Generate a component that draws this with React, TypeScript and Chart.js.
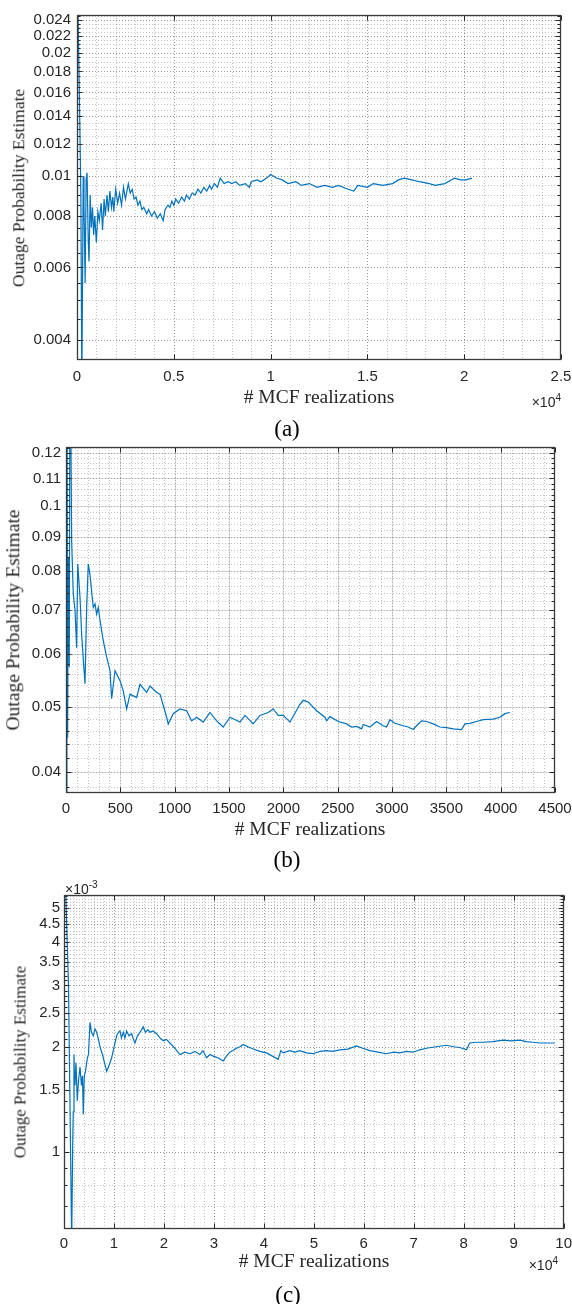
import React, { useEffect, useRef } from "react";
import { Chart, registerables } from "chart.js";
Chart.register(...registerables);

// ---------- Panel (a) ----------
const realizationsA = [
  0, 60, 120, 200, 250, 320, 360, 420, 470, 520, 580, 620, 680, 740, 800, 860, 920, 1000, 1080, 1150,
  1250, 1320, 1400, 1460, 1550, 1620, 1700, 1780, 1850, 1900, 2000, 2100, 2200, 2300, 2400, 2500, 2650,
  2750, 2850, 2950, 3050, 3150, 3250, 3350, 3450, 3600, 3700, 3850, 4000, 4150, 4300, 4450, 4550, 4700,
  4800, 4900, 5000, 5100, 5250, 5400, 5550, 5650, 5800, 5950, 6100, 6250, 6400, 6550, 6700, 6850, 6950,
  7100, 7250, 7400, 7600, 7800, 8000, 8200, 8400, 8700, 8900, 9000, 9300, 9500, 9800, 10000, 10300,
  10600, 10900, 11300, 11600, 12000, 12400, 12800, 13200, 13500, 14000, 14300, 14500, 15000, 15300,
  15800, 16300, 16600, 16900, 17300, 17700, 18200, 18500, 19000, 19500, 19800, 20100, 20400,
];
const outageA = [
  0.05, 0.024, 0.016, 0.009, 0.003, 0.01, 0.0085, 0.0055, 0.0098, 0.0102, 0.007, 0.0062, 0.009, 0.0075,
  0.0084, 0.0072, 0.008, 0.0069, 0.0082, 0.0078, 0.0086, 0.0074, 0.0088, 0.008, 0.009, 0.0082, 0.0092,
  0.0084, 0.0089, 0.0082, 0.0093, 0.0086, 0.0091, 0.0085, 0.0094, 0.0088, 0.0096, 0.0091, 0.0093, 0.0088,
  0.0089, 0.0085, 0.0087, 0.0083, 0.0084, 0.0081, 0.0083, 0.008, 0.0082, 0.0079, 0.0081, 0.0078, 0.0083,
  0.0085, 0.0084, 0.0087, 0.0085, 0.0088, 0.0086, 0.0089, 0.0087, 0.009, 0.0088, 0.0091, 0.009, 0.0093,
  0.0091, 0.0094, 0.0092, 0.0095, 0.0093, 0.0096, 0.0094, 0.0099, 0.0096, 0.0097, 0.0096, 0.0097, 0.0095,
  0.0096, 0.0094, 0.0097, 0.0098, 0.0097, 0.0099, 0.0101, 0.0099, 0.0098, 0.0096, 0.0097, 0.0095, 0.0096,
  0.0094, 0.0095, 0.0094, 0.0095, 0.0093, 0.0092, 0.0095, 0.0094, 0.0096, 0.0095, 0.0096, 0.0098, 0.0099,
  0.0098, 0.0097, 0.0096, 0.0095, 0.0096, 0.0099, 0.0098, 0.0098, 0.0099,
];
const xTicksA = [0, 5000, 10000, 15000, 20000, 25000];
const xLabelsA = ["0", "0.5", "1", "1.5", "2", "2.5"];
const yTicksA = [0.004, 0.006, 0.008, 0.01, 0.012, 0.014, 0.016, 0.018, 0.02, 0.022, 0.024];
const yLabelsA = ["0.004", "0.006", "0.008", "0.01", "0.012", "0.014", "0.016", "0.018", "0.02", "0.022", "0.024"];

// ---------- Panel (b) ----------
const realizationsB = [
  0, 8, 15, 21, 30, 37, 52, 67, 83, 98,
  108, 129, 144, 166, 175, 190, 205, 221, 251, 267,
  282, 297, 313, 343, 374, 405, 420, 451, 497, 527,
  558, 589, 650, 681, 742, 773, 834, 865, 926, 941,
  987, 1049, 1110, 1156, 1202, 1263, 1325, 1386, 1447, 1509,
  1601, 1647, 1723, 1785, 1861, 1907, 1953, 1999, 2061, 2153,
  2183, 2229, 2306, 2383, 2398, 2429, 2505, 2582, 2628, 2674,
  2720, 2736, 2797, 2858, 2919, 2950, 2981, 3027, 3103, 3149,
  3195, 3226, 3272, 3318, 3379, 3441, 3502, 3563, 3640, 3671,
  3717, 3778, 3839, 3931, 3993, 4039, 4085,
];
const outageB = [
  0.033, 0.2, 0.045, 0.0838, 0.0574, 0.2, 0.0885, 0.0739, 0.0698, 0.0614,
  0.0819, 0.073, 0.0643, 0.0567, 0.0542, 0.0705, 0.0819, 0.0789, 0.0705, 0.0714,
  0.0689, 0.0705, 0.0674, 0.0629, 0.0594, 0.0567, 0.0515, 0.0567, 0.0548, 0.0529,
  0.0497, 0.0523, 0.0517, 0.0541, 0.0526, 0.0538, 0.0526, 0.0523, 0.0483, 0.0472,
  0.0489, 0.0497, 0.0494, 0.0477, 0.0483, 0.0475, 0.0491, 0.0477, 0.0467, 0.0483,
  0.0475, 0.0486, 0.0472, 0.0486, 0.0491, 0.0497, 0.0486, 0.0486, 0.0475, 0.0505,
  0.0512, 0.0509, 0.0494, 0.0483, 0.0477, 0.0484, 0.0476, 0.0472, 0.0467, 0.0468,
  0.0464, 0.0471, 0.0467, 0.0476, 0.0469, 0.0467, 0.0479, 0.0473, 0.0469, 0.0467,
  0.0463, 0.0469, 0.0477, 0.0476, 0.0472, 0.0467, 0.0466, 0.0464, 0.0463, 0.0472,
  0.0473, 0.0476, 0.0479, 0.048, 0.0483, 0.0489, 0.0491,
];
const xTicksB = [0, 500, 1000, 1500, 2000, 2500, 3000, 3500, 4000, 4500];
const xLabelsB = ["0", "500", "1000", "1500", "2000", "2500", "3000", "3500", "4000", "4500"];
const yTicksB = [0.04, 0.05, 0.06, 0.07, 0.08, 0.09, 0.1, 0.11, 0.12];
const yLabelsB = ["0.04", "0.05", "0.06", "0.07", "0.08", "0.09", "0.1", "0.11", "0.12"];

// ---------- Panel (c) (values in units of 1e-3) ----------
const realizationsC = [
  0, 340, 900, 1540, 1740, 1850, 2000, 2100, 2200, 2400, 2660, 2900, 3200, 3500, 3700, 3860, 4060, 4300,
  4660, 4900, 5200, 5500, 5860, 6200, 6540, 6900, 7200, 7700, 8100, 8540, 8900, 9200, 9500, 9860, 10200,
  10540, 10900, 11200, 11500, 11860, 12200, 12540, 13000, 13540, 13900, 14200, 14700, 15200, 15860, 16300,
  16800, 17200, 17800, 18540, 19200, 19860, 20500, 21200, 22200, 23200, 24200, 25200, 26200, 27200, 27800,
  28540, 29200, 29860, 30800, 31860, 32500, 33200, 33800, 34540, 35200, 35860, 36800, 37860, 39200, 40540,
  41700, 42860, 43400, 43860, 45200, 46200, 47200, 48500, 49860, 51200, 52540, 53800, 55200, 56800, 58540,
  59800, 61200, 62800, 64540, 66000, 67200, 68500, 69860, 71200, 72540, 74500, 76540, 78000, 79200, 80540,
  81200, 82500, 83860, 85800, 87860, 89500, 91200, 92500, 93860, 95200, 96540, 98200,
];
const outageC_e3 = [
  8, 5.6, 3.0, 0.55, 1.05, 1.3, 1.9, 1.6, 1.55, 1.8, 1.4, 1.6, 1.75, 1.55, 1.65, 1.28, 1.65, 1.7, 1.85, 1.9,
  2.35, 2.2, 2.15, 2.25, 2.2, 2.1, 2.0, 1.9, 1.8, 1.7, 1.75, 1.8, 1.85, 1.95, 2.05, 2.15, 2.2, 2.22, 2.12,
  2.2, 2.12, 2.22, 2.15, 2.18, 2.1, 2.05, 2.15, 2.2, 2.28, 2.2, 2.24, 2.2, 2.22, 2.18, 2.12, 2.08, 2.1, 2.05,
  1.98, 1.9, 1.93, 1.91, 1.94, 1.9, 1.95, 1.86, 1.9, 1.88, 1.86, 1.82, 1.88, 1.93, 1.95, 1.98, 2.0, 2.03,
  2.0, 1.97, 1.94, 1.92, 1.88, 1.84, 1.95, 1.92, 1.95, 1.93, 1.95, 1.92, 1.91, 1.94, 1.95, 1.94, 1.96, 1.97,
  2.01, 1.98, 1.95, 1.93, 1.91, 1.93, 1.92, 1.94, 1.93, 1.96, 1.98, 2.0, 2.02, 2.0, 1.99, 1.96, 2.05, 2.06,
  2.06, 2.07, 2.09, 2.08, 2.09, 2.07, 2.06, 2.05, 2.05, 2.05,
];
const xTicksC = [0, 10000, 20000, 30000, 40000, 50000, 60000, 70000, 80000, 90000, 100000];
const xLabelsC = ["0", "1", "2", "3", "4", "5", "6", "7", "8", "9", "10"];
const yTicksC = [1, 1.5, 2, 2.5, 3, 3.5, 4, 4.5, 5];
const yLabelsC = ["1", "1.5", "2", "2.5", "3", "3.5", "4", "4.5", "5"];

// ---------- helpers ----------
function steps(from: number, to: number, step: number): number[] {
  const out: number[] = [];
  const n = Math.round((to - from) / step);
  for (let i = 0; i <= n; i++) out.push(Math.round((from + i * step) * 1e7) / 1e7);
  return out;
}

const INK = "#262626";
const LINE_BLUE = "#0072BD";
const SANS = "'Liberation Sans', Arial, Helvetica, sans-serif";
const SERIF = "'Liberation Serif', 'Times New Roman', Times, serif";

const matlabAxes = {
  id: "matlabAxes",
  beforeDatasetsDraw(chart: any, _args: any, o: any) {
    const { ctx, chartArea: a } = chart;
    const xs = chart.scales.x;
    const ys = chart.scales.y;
    ctx.save();
    ctx.lineWidth = 1;
    const vline = (v: number) => {
      const p = Math.round(xs.getPixelForValue(v)) + 0.5;
      if (p < a.left + 1 || p > a.right - 1) return;
      ctx.beginPath();
      ctx.moveTo(p, a.top);
      ctx.lineTo(p, a.bottom);
      ctx.stroke();
    };
    const hline = (v: number) => {
      const p = Math.round(ys.getPixelForValue(v)) + 0.5;
      if (p < a.top + 1 || p > a.bottom - 1) return;
      ctx.beginPath();
      ctx.moveTo(a.left, p);
      ctx.lineTo(a.right, p);
      ctx.stroke();
    };
    ctx.setLineDash([1, 2]);
    ctx.strokeStyle = "rgba(38,38,38,0.28)";
    o.xMinor.forEach(vline);
    o.yMinor.forEach(hline);
    if (o.solidMajor) {
      ctx.setLineDash([]);
      ctx.strokeStyle = "rgba(38,38,38,0.15)";
    }
    o.xMajor.forEach(vline);
    o.yMajor.forEach(hline);
    ctx.restore();
  },
  afterDraw(chart: any, _args: any, o: any) {
    const { ctx, chartArea: a } = chart;
    const xs = chart.scales.x;
    const ys = chart.scales.y;
    ctx.save();
    ctx.strokeStyle = INK;
    ctx.lineWidth = 1;
    ctx.setLineDash([]);
    const L = Math.round(a.left) + 0.5;
    const R = Math.round(a.right) - 0.5;
    const T = Math.round(a.top) + 0.5;
    const B = Math.round(a.bottom) - 0.5;
    ctx.beginPath();
    o.xMajor.forEach((v: number) => {
      const p = Math.round(xs.getPixelForValue(v)) + 0.5;
      ctx.moveTo(p, B);
      ctx.lineTo(p, B - 5);
      ctx.moveTo(p, T);
      ctx.lineTo(p, T + 5);
    });
    o.yMajor.forEach((v: number) => {
      const p = Math.round(ys.getPixelForValue(v)) + 0.5;
      ctx.moveTo(L, p);
      ctx.lineTo(L + 5, p);
      ctx.moveTo(R, p);
      ctx.lineTo(R - 5, p);
    });
    o.yMinor.forEach((v: number) => {
      const p = Math.round(ys.getPixelForValue(v)) + 0.5;
      if (p < a.top || p > a.bottom) return;
      ctx.moveTo(L, p);
      ctx.lineTo(L + 3, p);
      ctx.moveTo(R, p);
      ctx.lineTo(R - 3, p);
    });
    ctx.stroke();
    ctx.lineWidth = 1.3;
    ctx.strokeStyle = "#3a3a3a";
    ctx.strokeRect(L, T, R - L, B - T);
    ctx.restore();
  },
};

type Panel = {
  x: number[];
  y: number[];
  xMin: number;
  xMax: number;
  yMin: number;
  yMax: number;
  xTicks: number[];
  xLabels: string[];
  yTicks: number[];
  yLabels: string[];
  xMinor: number[];
  yMinor: number[];
  solidMajor: boolean;
  left: number;
  padTop: number;
  padRight: number;
  xAxisH: number;
  xTickGap: number;
  yTickGap: number;
  tickFont: number;
};

function PanelChart({ p, top, height }: { p: Panel; top: number; height: number }) {
  const ref = useRef<HTMLCanvasElement | null>(null);
  useEffect(() => {
    if (!ref.current) return;
    const chart = new Chart(ref.current, {
      type: "line",
      data: {
        datasets: [
          {
            data: p.x.map((xv, i) => ({ x: xv, y: p.y[i] })),
            borderColor: LINE_BLUE,
            borderWidth: 1.2,
            pointRadius: 0,
            fill: false,
            tension: 0,
          },
        ],
      },
      options: {
        animation: false,
        responsive: false,
        maintainAspectRatio: false,
        layout: { padding: { top: p.padTop, right: p.padRight, bottom: 0, left: 0 } },
        plugins: {
          legend: { display: false },
          tooltip: { enabled: false },
          matlabAxes: {
            xMajor: p.xTicks,
            yMajor: p.yTicks,
            xMinor: p.xMinor,
            yMinor: p.yMinor,
            solidMajor: p.solidMajor,
          },
        } as any,
        scales: {
          x: {
            type: "linear",
            min: p.xMin,
            max: p.xMax,
            grid: { display: false, drawTicks: true, tickLength: p.xTickGap },
            border: { display: false },
            ticks: {
              autoSkip: false,
              maxRotation: 0,
              padding: 0,
              color: INK,
              font: { family: SANS, size: p.tickFont },
              callback: (_v: any, i: number) => p.xLabels[i],
            },
            afterBuildTicks: (s: any) => {
              s.ticks = p.xTicks.map((v) => ({ value: v }));
            },
            afterFit: (s: any) => {
              s.height = p.xAxisH;
            },
          },
          y: {
            type: "logarithmic",
            min: p.yMin,
            max: p.yMax,
            grid: { display: false, drawTicks: true, tickLength: p.yTickGap },
            border: { display: false },
            ticks: {
              autoSkip: false,
              padding: 0,
              color: INK,
              font: { family: SANS, size: p.tickFont },
              callback: (_v: any, i: number) => p.yLabels[i],
            },
            afterBuildTicks: (s: any) => {
              s.ticks = p.yTicks.map((v) => ({ value: v }));
            },
            afterFit: (s: any) => {
              s.width = p.left;
            },
          },
        } as any,
      },
      plugins: [matlabAxes as any],
    });
    return () => chart.destroy();
  }, [p]);
  return (
    <canvas
      ref={ref}
      width={572}
      height={height}
      style={{ position: "absolute", left: 0, top, width: 572, height }}
    />
  );
}

const panelA: Panel = {
  x: realizationsA,
  y: outageA,
  xMin: 0,
  xMax: 25000,
  yMin: 0.00357,
  yMax: 0.0247,
  xTicks: xTicksA,
  xLabels: xLabelsA,
  yTicks: yTicksA,
  yLabels: yLabelsA,
  xMinor: steps(0, 25000, 1000),
  yMinor: steps(0.0035, 0.0245, 0.0005),
  solidMajor: false,
  left: 77,
  padTop: 15,
  padRight: 11,
  xAxisH: 35,
  xTickGap: 8,
  yTickGap: 6,
  tickFont: 15,
};
const panelB: Panel = {
  x: realizationsB,
  y: outageB,
  xMin: 0,
  xMax: 4500,
  yMin: 0.0372,
  yMax: 0.1226,
  xTicks: xTicksB,
  xLabels: xLabelsB,
  yTicks: yTicksB,
  yLabels: yLabelsB,
  xMinor: steps(0, 4500, 100),
  yMinor: steps(0.036, 0.122, 0.002),
  solidMajor: true,
  left: 66,
  padTop: 17,
  padRight: 17,
  xAxisH: 35,
  xTickGap: 7,
  yTickGap: 5,
  tickFont: 15,
};
const panelC: Panel = {
  x: realizationsC,
  y: outageC_e3,
  xMin: 0,
  xMax: 100000,
  yMin: 0.615,
  yMax: 5.45,
  xTicks: xTicksC,
  xLabels: xLabelsC,
  yTicks: yTicksC,
  yLabels: yLabelsC,
  xMinor: steps(0, 100000, 2000),
  yMinor: steps(0.6, 5.4, 0.1),
  solidMajor: false,
  left: 64,
  padTop: 20,
  padRight: 8,
  xAxisH: 35,
  xTickGap: 6,
  yTickGap: 4,
  tickFont: 15,
};

const abs = (s: React.CSSProperties): React.CSSProperties => ({
  position: "absolute",
  whiteSpace: "nowrap",
  lineHeight: 1,
  margin: 0,
  ...s,
});

function XTitle({ cx, cy }: { cx: number; cy: number }) {
  return (
    <div style={abs({ left: cx, top: cy, transform: "translate(-50%,-50%)", fontFamily: SERIF, fontSize: 19.5, color: INK })}>
      # MCF realizations
    </div>
  );
}
function YTitle({ cx, cy, size }: { cx: number; cy: number; size: number }) {
  return (
    <div
      style={abs({
        left: cx,
        top: cy,
        transform: "translate(-50%,-50%) rotate(-90deg)",
        fontFamily: SERIF,
        fontSize: size,
        color: INK,
      })}
    >
      Outage Probability Estimate
    </div>
  );
}
function Exponent({ right, cy, exp }: { right: number; cy: number; exp: string }) {
  return (
    <div style={abs({ right: 572 - right, top: cy, transform: "translateY(-50%)", fontFamily: SANS, fontSize: 14, color: INK })}>
      ×10<sup style={{ fontSize: 10, verticalAlign: "6px" }}>{exp}</sup>
    </div>
  );
}
function Caption({ cx, cy, text }: { cx: number; cy: number; text: string }) {
  return (
    <div style={abs({ left: cx, top: cy, transform: "translate(-50%,-50%)", fontFamily: SERIF, fontSize: 23, color: "#000" })}>
      {text}
    </div>
  );
}

export default function App() {
  return (
    <div style={{ position: "absolute", left: 0, top: 0, width: 572, height: 1304, background: "#fff", overflow: "hidden" }}>
      <PanelChart p={panelA} top={0} height={395} />
      <XTitle cx={319} cy={397} />
      <YTitle cx={19} cy={188} size={17.5} />
      <Exponent right={561} cy={401} exp="4" />
      <Caption cx={287} cy={428} text="(a)" />

      <PanelChart p={panelB} top={430} height={398} />
      <XTitle cx={310} cy={829} />
      <YTitle cx={13} cy={620} size={19.5} />
      <Caption cx={287} cy={859} text="(b)" />

      <PanelChart p={panelC} top={875} height={389} />
      <div style={abs({ left: 65, top: 888, transform: "translateY(-50%)", fontFamily: SANS, fontSize: 14, color: INK })}>
        ×10<sup style={{ fontSize: 10, verticalAlign: "6px" }}>-3</sup>
      </div>
      <XTitle cx={314} cy={1261} />
      <YTitle cx={20} cy={1062} size={17} />
      <Exponent right={558} cy={1264} exp="4" />
      <Caption cx={288} cy={1294} text="(c)" />
    </div>
  );
}
